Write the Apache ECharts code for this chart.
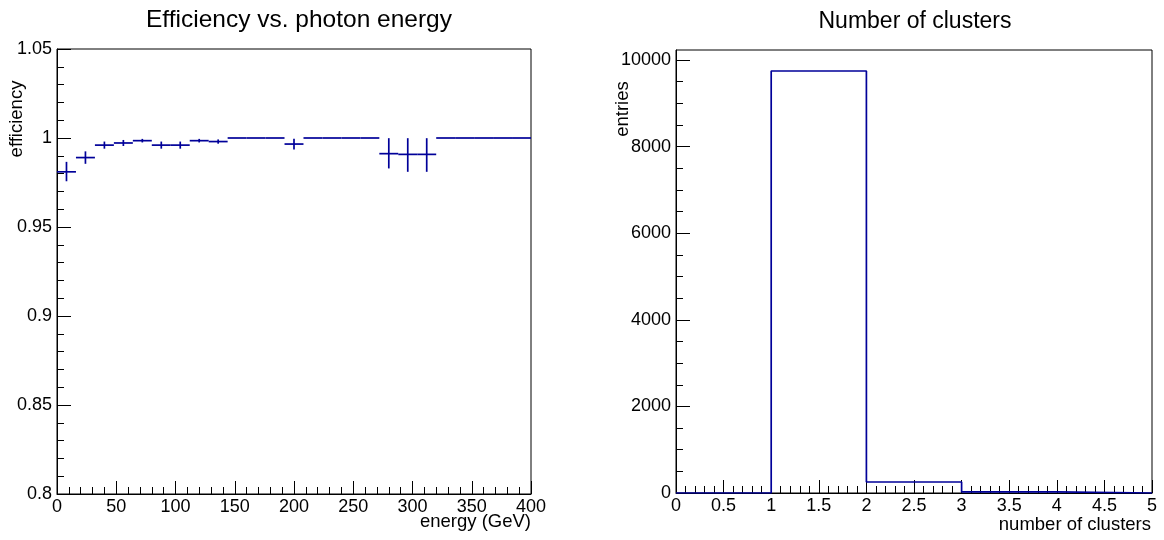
<!DOCTYPE html>
<html><head><meta charset="utf-8">
<script src="https://cdn.jsdelivr.net/npm/echarts@6/dist/echarts.min.js"></script>
<style>html,body{margin:0;padding:0;background:#fff}#c{width:1164px;height:540px}</style>
</head><body><div id="c"></div>
<script>
// ---- Efficiency vs photon energy (25 bins of 16 GeV) ----
const effBinLow  = [0,16,32,48,64,80,96,112,128,144,160,176,192,208,224,240,256,272,288,304,320,336,352,368,384];
const effBinHigh = [16,32,48,64,80,96,112,128,144,160,176,192,208,224,240,256,272,288,304,320,336,352,368,384,400];
const effValues  = [0.981,0.989,0.996,0.9972,0.9985,0.996,0.996,0.9985,0.998,1,1,1,0.9966,1,1,1,1,0.9912,0.9908,0.9908,1,1,1,1,1];
const effErrLow  = [0.0053,0.0035,0.002,0.0017,0.001,0.002,0.002,0.001,0.0012,0,0,0,0.003,0,0,0,0,0.0083,0.0098,0.0098,0,0,0,0,0];
const effErrHigh = [0.0056,0.0035,0.002,0.0017,0.001,0.002,0.002,0.001,0.0012,0,0,0,0.003,0,0,0,0,0.0087,0.0091,0.0091,0,0,0,0,0];
const effYTicks  = [0.8,0.85,0.9,0.95,1,1.05];
const effYMinor  = [0.81,0.82,0.83,0.84,0.86,0.87,0.88,0.89,0.91,0.92,0.93,0.94,0.96,0.97,0.98,0.99,1.01,1.02,1.03,1.04];
const effXMinor  = [10,20,30,40,60,70,80,90,110,120,130,140,160,170,180,190,210,220,230,240,260,270,280,290,310,320,330,340,360,370,380,390];

// ---- Number of clusters histogram ----
const nclEdges  = [0,1,2,3,4,5];
const nclCounts = [0,9746,254,25,0];
const nclYMajor = [0,2000,4000,6000,8000,10000];
const nclYMinor = [500,1000,1500,2500,3000,3500,4500,5000,5500,6500,7000,7500,8500,9000,9500];
const nclXMinor = [0.1,0.2,0.3,0.4,0.6,0.7,0.8,0.9,1.1,1.2,1.3,1.4,1.6,1.7,1.8,1.9,2.1,2.2,2.3,2.4,2.6,2.7,2.8,2.9,3.1,3.2,3.3,3.4,3.6,3.7,3.8,3.9,4.1,4.2,4.3,4.4,4.6,4.7,4.8,4.9];

const FONT = '"Liberation Sans", Arial, Helvetica, sans-serif';
const BLUE = '#000099';
const black = '#000';

const effData = effValues.map((v,i)=>[effBinLow[i], effBinHigh[i], v, effErrLow[i], effErrHigh[i]]);
const histData = nclEdges.map((e,i)=>[e, i < nclCounts.length ? nclCounts[i] : nclCounts[nclCounts.length-1]]);

function majorAxis(extra){
  return Object.assign({
    type:'value',
    axisLine:{show:true, onZero:false, lineStyle:{color:black,width:1}},
    axisTick:{show:true, inside:true, length:13, lineStyle:{color:black,width:1}},
    minorTick:{show:false},
    splitLine:{show:false},
    axisLabel:{color:black, fontSize:18, fontFamily:FONT, margin:4}
  }, extra);
}
function minorAxis(extra, ticks){
  return Object.assign({
    type:'value',
    axisLine:{show:false, onZero:false},
    axisTick:{show:true, inside:true, length:7, customValues:ticks, lineStyle:{color:black,width:1}},
    minorTick:{show:false},
    splitLine:{show:false},
    axisLabel:{show:false}
  }, extra);
}

const chart = echarts.init(document.getElementById('c'), null, {renderer:'canvas'});
chart.setOption({
  animation:false,
  backgroundColor:'#fff',
  title:[
    {text:'Efficiency vs. photon energy', left:294, top:3, textAlign:'center',
     textStyle:{fontSize:24.5, fontWeight:'normal', color:black, fontFamily:FONT}},
    {text:'Number of clusters', left:910, top:5, textAlign:'center',
     textStyle:{fontSize:23, fontWeight:'normal', color:black, fontFamily:FONT}}
  ],
  grid:[
    {left:57, right:633, top:49, bottom:46, show:true, borderColor:black, borderWidth:1, backgroundColor:'transparent'},
    {left:676, right:12, top:50, bottom:47, show:true, borderColor:black, borderWidth:1, backgroundColor:'transparent'}
  ],
  xAxis:[
    majorAxis({gridIndex:0, position:'bottom', min:0, max:400, interval:50}),
    majorAxis({gridIndex:1, position:'bottom', min:0, max:5, interval:0.5}),
    minorAxis({gridIndex:0, position:'bottom', min:0, max:400}, effXMinor),
    minorAxis({gridIndex:1, position:'bottom', min:0, max:5}, nclXMinor)
  ],
  yAxis:[
    majorAxis({gridIndex:0, position:'left', min:0.8, max:1.05, interval:0.05,
      axisTick:{show:true, inside:true, length:14, lineStyle:{color:black,width:1}},
      axisLabel:{color:black, fontSize:18, fontFamily:FONT, margin:5,
        formatter:function(v){ const best = effYTicks.reduce((a,b)=>Math.abs(b-v)<Math.abs(a-v)?b:a); return String(best); }}}),
    majorAxis({gridIndex:1, position:'left', min:0, max:10231,
      axisTick:{show:true, inside:true, length:14, customValues:nclYMajor, lineStyle:{color:black,width:1}},
      axisLabel:{color:black, fontSize:18, fontFamily:FONT, margin:5, customValues:nclYMajor,
        formatter:function(v){ return String(v); }}}),
    minorAxis({gridIndex:1, position:'left', min:0, max:10231}, nclYMinor),
    minorAxis({gridIndex:0, position:'left', min:0.8, max:1.05}, effYMinor)
  ],
  graphic:[
    {type:'text', x:17, y:119, rotation:Math.PI/2,
     style:{text:'efficiency', fill:black, font:'18.5px '+FONT, textAlign:'center', textVerticalAlign:'middle'}},
    {type:'text', x:623, y:109, rotation:Math.PI/2,
     style:{text:'entries', fill:black, font:'18.5px '+FONT, textAlign:'center', textVerticalAlign:'middle'}},
    {type:'text', x:531, y:522,
     style:{text:'energy (GeV)', fill:black, font:'18.5px '+FONT, textAlign:'right', textVerticalAlign:'middle'}},
    {type:'text', x:1151, y:525,
     style:{text:'number of clusters', fill:black, font:'18.5px '+FONT, textAlign:'right', textVerticalAlign:'middle'}}
  ],
  series:[
    {type:'custom', xAxisIndex:0, yAxisIndex:0, data:effData, encode:{x:[0,1], y:2},
     renderItem:function(params, api){
       const xl=api.value(0), xh=api.value(1), y=api.value(2), el=api.value(3), eh=api.value(4);
       const pL=api.coord([xl,y]), pH=api.coord([xh,y]);
       const xc=(xl+xh)/2;
       const children=[{type:'line', shape:{x1:pL[0],y1:pL[1],x2:pH[0],y2:pH[1]}, style:{stroke:BLUE,lineWidth:1.7}}];
       if (el+eh>0){
         const pT=api.coord([xc,y+eh]), pB=api.coord([xc,y-el]);
         children.push({type:'line', shape:{x1:pT[0],y1:pT[1],x2:pB[0],y2:pB[1]}, style:{stroke:BLUE,lineWidth:1.7}});
       }
       return {type:'group', children:children};
     }},
    {type:'line', xAxisIndex:1, yAxisIndex:1, data:histData, step:'end', showSymbol:false,
     lineStyle:{color:BLUE, width:1.7}, itemStyle:{color:BLUE}}
  ]
});
</script></body></html>
